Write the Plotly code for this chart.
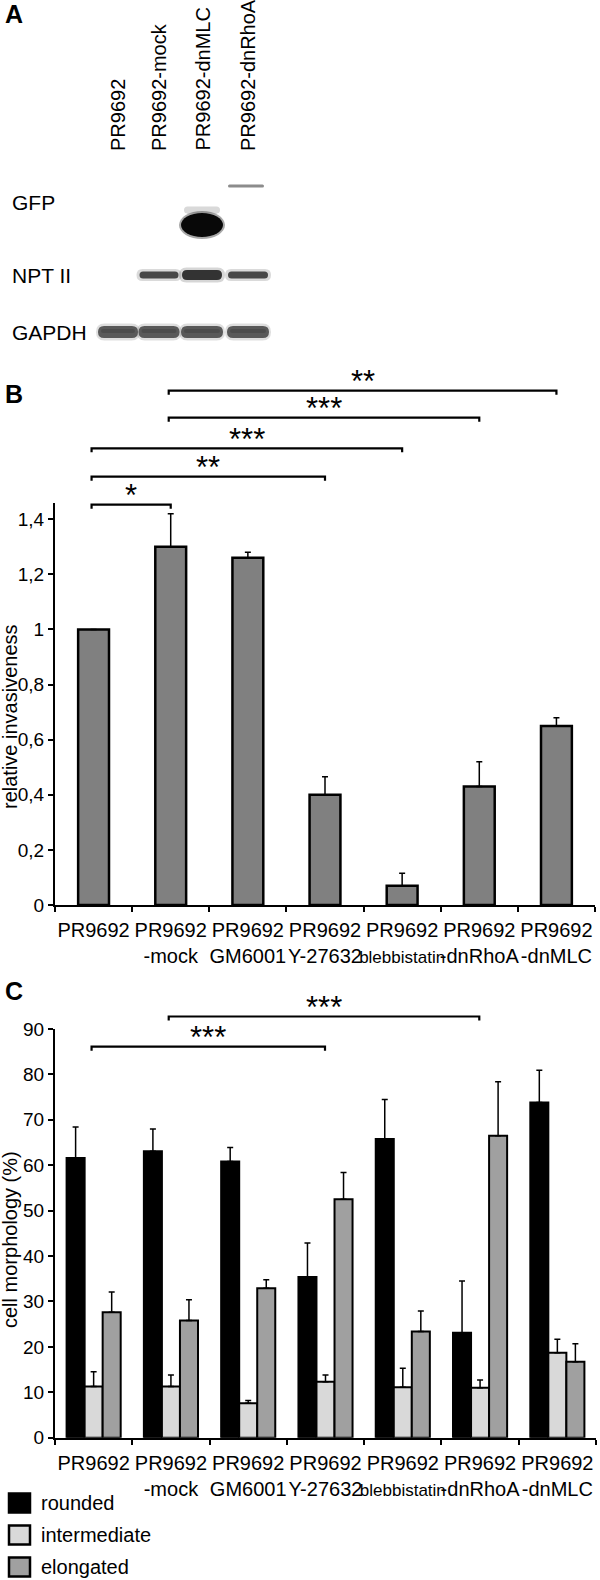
import plotly.graph_objects as go

W, H = 600, 1580
FONT = "Liberation Sans, Arial, sans-serif"

# ---------------- data ----------------
categories = ["PR9692", "PR9692<br>-mock", "PR9692<br>GM6001", "PR9692<br>Y-27632",
              "PR9692<br><span style='font-size:17px'>blebbistatin</span>",
              "PR9692<br>-dnRhoA", "PR9692<br>-dnMLC"]

invasiveness = [1.00, 1.30, 1.26, 0.40, 0.07, 0.43, 0.65]
invasiveness_err = [0.0, 0.12, 0.02, 0.065, 0.045, 0.09, 0.03]

rounded = [61.6, 63.1, 60.8, 35.4, 65.8, 23.1, 73.8]
rounded_err = [6.8, 4.9, 3.1, 7.5, 8.7, 11.4, 7.1]
intermediate = [11.3, 11.3, 7.6, 12.3, 11.1, 11.0, 18.7]
intermediate_err = [3.2, 2.5, 0.6, 1.5, 4.2, 1.7, 3.0]
elongated = [27.6, 25.8, 32.9, 52.5, 23.4, 66.5, 16.7]
elongated_err = [4.5, 4.6, 1.9, 5.9, 4.5, 11.9, 4.0]

sig_b = [(0, 1, "*"), (0, 3, "**"), (0, 4, "***"), (1, 5, "***"), (1, 6, "**")]
sig_c = [(0, 3, "***"), (1, 5, "***")]

blot_lanes = ["PR9692", "PR9692-mock", "PR9692-dnMLC", "PR9692-dnRhoA"]
blot_rows = ["GFP", "NPT II", "GAPDH"]
# band intensity per row (lane order as blot_lanes), 0 = no band
gfp_bands = [0, 0, 1.0, 0.45]
npt_bands = [0, 0.72, 0.8, 0.72]
gapdh_bands = [0.65, 0.65, 0.65, 0.65]

# ---------------- layout helpers ----------------
def px(x):
    return x / W

def py(y):
    return 1 - y / H

AX_X0, AX_X1 = 55, 595
def cat_center(i):
    return AX_X0 + (i + 0.5) * (AX_X1 - AX_X0) / 7

fig = go.Figure()

# ---------------- panel B ----------------
fig.add_trace(go.Bar(
    x=categories, y=invasiveness, width=0.4,
    marker=dict(color="#808080", line=dict(color="black", width=2.5)),
    error_y=dict(type="data", symmetric=False, array=invasiveness_err,
                 arrayminus=[0] * 7, color="black", thickness=1.5, width=3),
    xaxis="x", yaxis="y", showlegend=False))

# ---------------- panel C ----------------
series = [("rounded", rounded, rounded_err, "black"),
          ("intermediate", intermediate, intermediate_err, "#d9d9d9"),
          ("elongated", elongated, elongated_err, "#a0a0a0")]
for name, vals, errs, col in series:
    fig.add_trace(go.Bar(
        x=categories, y=vals, name=name,
        marker=dict(color=col, line=dict(color="black", width=2)),
        error_y=dict(type="data", symmetric=False, array=errs,
                     arrayminus=[0] * 7, color="black", thickness=1.5, width=3),
        xaxis="x2", yaxis="y2", showlegend=False))

axis_common = dict(showline=True, linecolor="black", linewidth=2, ticks="outside",
                   ticklen=5, tickwidth=2, tickcolor="black", showgrid=False,
                   zeroline=False)
xfont = dict(family=FONT, size=20, color="black")
yfont = dict(family=FONT, size=19, color="black")

fig.update_layout(
    width=W, height=H, margin=dict(l=0, r=0, t=0, b=0, autoexpand=False),
    paper_bgcolor="white", plot_bgcolor="white",
    barmode="group", bargap=0.3, bargroupgap=0,
    separators=", ", showlegend=False,
    font=dict(family=FONT, color="black"),
    xaxis=dict(domain=[px(AX_X0), px(AX_X1)], type="category", tickson="boundaries",
               tickangle=0, tickfont=xfont, ticklabelstandoff=6, anchor="y", **axis_common),
    yaxis=dict(domain=[py(905), py(502.7)], range=[0, 1.46], dtick=0.2, tick0=0,
               tickfont=yfont, anchor="x", **axis_common),
    xaxis2=dict(domain=[px(AX_X0), px(AX_X1 + 1)], type="category", tickson="boundaries",
                tickangle=0, tickfont=xfont, ticklabelstandoff=6, anchor="y2", **axis_common),
    yaxis2=dict(domain=[py(1437.7), py(1029)], range=[0, 90], dtick=10, tick0=0,
                tickfont=yfont, anchor="x2", **axis_common),
    xaxis3=dict(domain=[0, 1], range=[0, 600], visible=False, anchor="y3", fixedrange=True),
    yaxis3=dict(domain=[py(380), 1], range=[380, 0], visible=False, anchor="x3", fixedrange=True),
)

annotations = []
shapes = []

# panel letters
for letter, yy in [("A", 14), ("B", 394), ("C", 991)]:
    annotations.append(dict(text="<b>%s</b>" % letter, x=px(3), y=py(yy), xref="paper",
                            yref="paper", xanchor="left", yanchor="middle", showarrow=False,
                            font=dict(family=FONT, size=25, color="black")))

# axis titles
annotations.append(dict(text="relative invasiveness", x=px(10), y=py(717), xref="paper",
                        yref="paper", textangle=-90, showarrow=False, xanchor="center",
                        yanchor="middle", font=dict(family=FONT, size=20, color="black")))
annotations.append(dict(text="cell morphology (%)", x=px(10), y=py(1240), xref="paper",
                        yref="paper", textangle=-90, showarrow=False, xanchor="center",
                        yanchor="middle", font=dict(family=FONT, size=20, color="black")))

# legend (drawn key)
for k, (name, vals, errs, col) in enumerate(series):
    yc = 1503 + 32 * k
    shapes.append(dict(type="rect", x0=px(9), x1=px(30), y0=py(yc - 9.5), y1=py(yc + 9.5),
                       xref="paper", yref="paper", fillcolor=col,
                       line=dict(color="black", width=2.5)))
    annotations.append(dict(text=name, x=px(39), y=py(yc), xref="paper", yref="paper",
                            showarrow=False, xanchor="left", yanchor="middle",
                            font=dict(family=FONT, size=20, color="black")))

# significance brackets
def bracket(i, j, ybr, stars):
    x1, x2 = cat_center(i) - 2, cat_center(j)
    path = "M%f,%f V%f H%f V%f" % (px(x1), py(ybr + 4), py(ybr), px(x2), py(ybr + 4))
    shapes.append(dict(type="path", path=path, xref="paper", yref="paper",
                       line=dict(color="black", width=2.2)))
    annotations.append(dict(text=stars, x=px((x1 + x2) / 2), y=py(ybr - 9),
                            xref="paper", yref="paper", showarrow=False,
                            xanchor="center", yanchor="middle",
                            font=dict(family=FONT, size=31, color="black")))

for (i, j, s), yb in zip(sig_b, [504.7, 476.7, 448.3, 417.7, 390.7]):
    bracket(i, j, yb, s)
for (i, j, s), yb in zip(sig_c, [1046.7, 1016.5]):
    bracket(i, j, yb, s)

# ---------------- panel A (western blot) ----------------
lane_x = [118, 159, 202, 248]
for lab, lx in zip(blot_lanes, lane_x):
    annotations.append(dict(text=lab, x=lx, y=153, xref="x3", yref="y3", textangle=-90,
                            showarrow=False, xanchor="center", yanchor="bottom",
                            font=dict(family=FONT, size=20, color="black")))
for lab, yy in zip(blot_rows, [202, 275, 332]):
    annotations.append(dict(text=lab, x=10, y=yy, xref="x3", yref="y3", showarrow=False,
                            xanchor="left", yanchor="middle",
                            font=dict(family=FONT, size=21, color="black")))

def band(cx, cy, w, h, intensity, opacity=1.0):
    g = int(round(255 * (1 - intensity)))
    col = "rgb(%d,%d,%d)" % (g, g, g)
    x0, x1 = cx - w / 2, cx + w / 2
    y0, y1 = cy - h / 2, cy + h / 2
    r = min(h / 2, w / 4)
    path = ("M%f,%f L%f,%f Q%f,%f %f,%f Q%f,%f %f,%f L%f,%f Q%f,%f %f,%f Q%f,%f %f,%f Z" %
            (x0 + r, y0, x1 - r, y0, x1, y0, x1, cy, x1, y1, x1 - r, y1,
             x0 + r, y1, x0, y1, x0, cy, x0, y0, x0 + r, y0))
    shapes.append(dict(type="path", path=path, xref="x3", yref="y3", fillcolor=col,
                       line=dict(width=0), opacity=opacity, layer="above"))

widths = [40, 41, 42, 42]
for k, (lx, it) in enumerate(zip(lane_x, gapdh_bands)):
    if it > 0:
        band(lx, 332, widths[k] + 4, 17, it, 0.2)
        band(lx, 332, widths[k], 12, it)
        band(lx, 331, widths[k] - 6, 4, it + 0.1, 0.5)
for k, (lx, it) in enumerate(zip(lane_x, npt_bands)):
    if it > 0:
        hh = 10 if k == 2 else 7
        band(lx, 275, widths[k] + 4, hh + 5, it, 0.2)
        band(lx, 275, widths[k] - 2, hh, it)
# GFP
if gfp_bands[2] > 0:
    band(lane_x[2], 210, 36, 7, 0.25, 0.6)
    shapes.append(dict(type="circle", x0=lane_x[2] - 23, x1=lane_x[2] + 23, y0=211, y1=239,
                       xref="x3", yref="y3", fillcolor="rgb(60,60,60)", opacity=0.45,
                       line=dict(width=0)))
    shapes.append(dict(type="circle", x0=lane_x[2] - 21, x1=lane_x[2] + 21, y0=213, y1=237,
                       xref="x3", yref="y3", fillcolor="rgb(8,8,8)",
                       line=dict(width=0)))
if gfp_bands[3] > 0:
    band(lane_x[3] - 2, 186, 36, 3, gfp_bands[3])

fig.update_layout(annotations=annotations, shapes=shapes)

fig.write_html("out.html", config={"displayModeBar": False},
               post_script="document.body.style.margin='0';")
